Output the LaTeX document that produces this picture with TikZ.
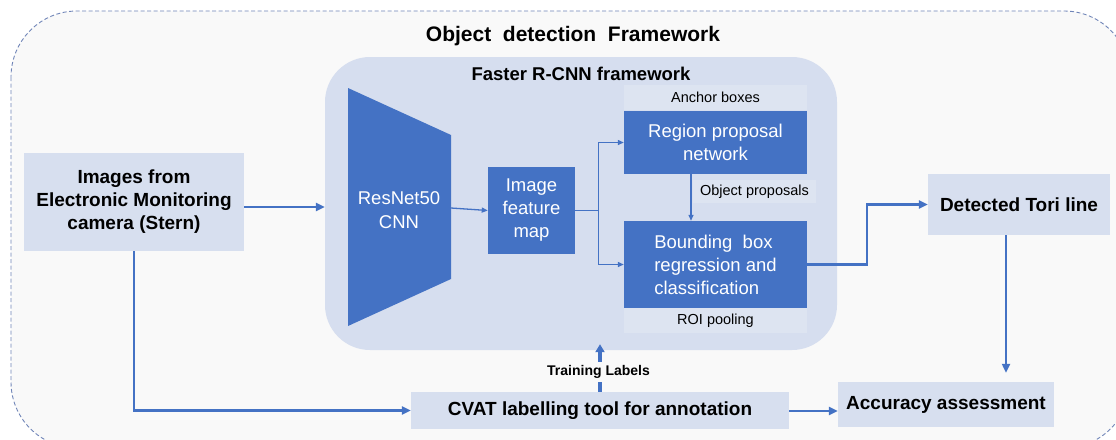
\documentclass[tikz,border=0pt]{standalone}
\usepackage{fontspec}
\setmainfont{Liberation Sans}
\usetikzlibrary{arrows.meta,calc}
\definecolor{dblue}{HTML}{4472C4}
\definecolor{rcnnfill}{HTML}{D6DEEF}
\definecolor{boxfill}{HTML}{D7DFEF}
\definecolor{tagfill}{HTML}{DDE4F1}
\definecolor{outerfill}{HTML}{F9F9F9}
\definecolor{dashcol}{HTML}{7085B8}
\begin{document}
\begin{tikzpicture}[x=1pt,y=-1pt,
  lightbox/.style={fill=boxfill, inner sep=0pt, font=\fontsize{19}{23}\selectfont\bfseries, align=center},
  bluebox/.style={fill=dblue, text=white, inner sep=0pt, font=\fontsize{18.5}{23}\selectfont, align=center},
  tagbox/.style={fill=tagfill, inner sep=0pt, font=\fontsize{14.5}{17}\selectfont},
  mainarrow/.style={draw=dblue, line width=2.2pt, -{Triangle[length=9pt,width=8pt]}},
  subarrow/.style={draw=dblue, line width=1.3pt, -{Triangle[length=6pt,width=5pt]}},
]
\useasboundingbox (0,0) rectangle (1116,439);
\begin{scope}
\clip (0,0) rectangle (1116,439);
\fill[white] (0,0) rectangle (1116,439);
% outer frame
\draw[draw=dashcol, dash pattern=on 4pt off 2.5pt, line width=0.9pt, fill=outerfill,
      rounded corners=66pt] (11,11) rectangle (1130,448);
\end{scope}
\node[font=\fontsize{21}{25}\selectfont\bfseries] (title) at (573,36) {Object\ \ detection\ \ Framework};

% Faster R-CNN frame
\node[fill=rcnnfill, rounded corners=45pt, minimum width=512pt, minimum height=293pt, inner sep=0pt]
      (rcnn) at (581,203.5) {};
\node[font=\fontsize{18.5}{22}\selectfont\bfseries] (rcnntitle) at (581,74) {Faster R-CNN framework};

% ResNet trapezoid
\coordinate (r1) at (348,88);
\coordinate (r2) at (451,135);
\coordinate (r3) at (451,279);
\coordinate (r4) at (348,326);
\fill[dblue] (r1) -- (r2) -- (r3) -- (r4) -- cycle;
\node[text=white, font=\fontsize{18.5}{24}\selectfont, align=center] (resnet) at (399,210) {ResNet50\\CNN};
\coordinate (resout) at (451,208);

% boxes inside
\node[bluebox, minimum width=87pt, minimum height=87pt] (fmap) at (531.5,210.5) {Image\\feature\\map};
\node[tagbox, minimum width=183pt, minimum height=25pt] (anchor) at (715.5,97.5) {Anchor boxes};
\node[bluebox, minimum width=183pt, minimum height=63pt] (rpn) at (715.5,142.5) {Region proposal\\network};
\node[bluebox, minimum width=183pt, minimum height=87pt, align=left] (bb) at (715.5,264.5) {Bounding\ \ box\\regression and\\classification};
\node[tagbox, minimum width=183pt, minimum height=25pt] (roi) at (715.5,320.5) {ROI pooling};
\node[tagbox, minimum width=123pt, minimum height=23pt] (obj) at (754.5,191.5) {Object proposals};

% outer boxes
\node[lightbox, minimum width=220pt, minimum height=98pt] (img) at (134,202) {Images from\\Electronic Monitoring\\camera (Stern)};
\node[lightbox, minimum width=182pt, minimum height=61pt] (tori) at (1019,204.5) {Detected Tori line};
\node[lightbox, minimum width=216pt, minimum height=45pt] (acc) at (946,404.5) {Accuracy assessment};
\node[lightbox, minimum width=378pt, minimum height=37pt] (cvat) at (600,410.5) {CVAT labelling tool for annotation};

% connectors
\coordinate (imgout) at ([yshift=-5pt]img.east);
\draw[mainarrow] (imgout) -- (imgout -| rcnn.west);
\draw[subarrow] (resout) -- (fmap.west);
\draw[subarrow] (fmap.east) -- ++(23,0) |- (rpn.west);
\draw[subarrow] (fmap.east) -- ++(23,0) |- (bb.west);
\coordinate (rpnout) at ([xshift=-24.5pt]rpn.south);
\draw[subarrow] (rpnout) -- (rpnout |- bb.north);
\draw[mainarrow] (bb.east) -- ++(60,0) |- (tori.west);
\coordinate (toridown) at ([xshift=-13pt]tori.south);
\draw[mainarrow, shorten >=9pt] (toridown) -- (toridown |- acc.north);
\draw[mainarrow] (img.south) |- (cvat.west);
\coordinate (cvatout) at ([yshift=-0.5pt]cvat.east);
\draw[mainarrow] (cvatout) -- (cvatout -| acc.west);
\draw[draw=dblue, line width=3.2pt, -{Triangle[length=8pt,width=9pt]}, shorten >=-6pt] (cvat.north) -- (cvat.north |- rcnn.south);
\node[fill=outerfill, inner sep=0pt, minimum width=127pt, minimum height=20pt, font=\fontsize{14}{17}\selectfont\bfseries] (train) at (598.5,372) {Training Labels};
\end{tikzpicture}
\end{document}
